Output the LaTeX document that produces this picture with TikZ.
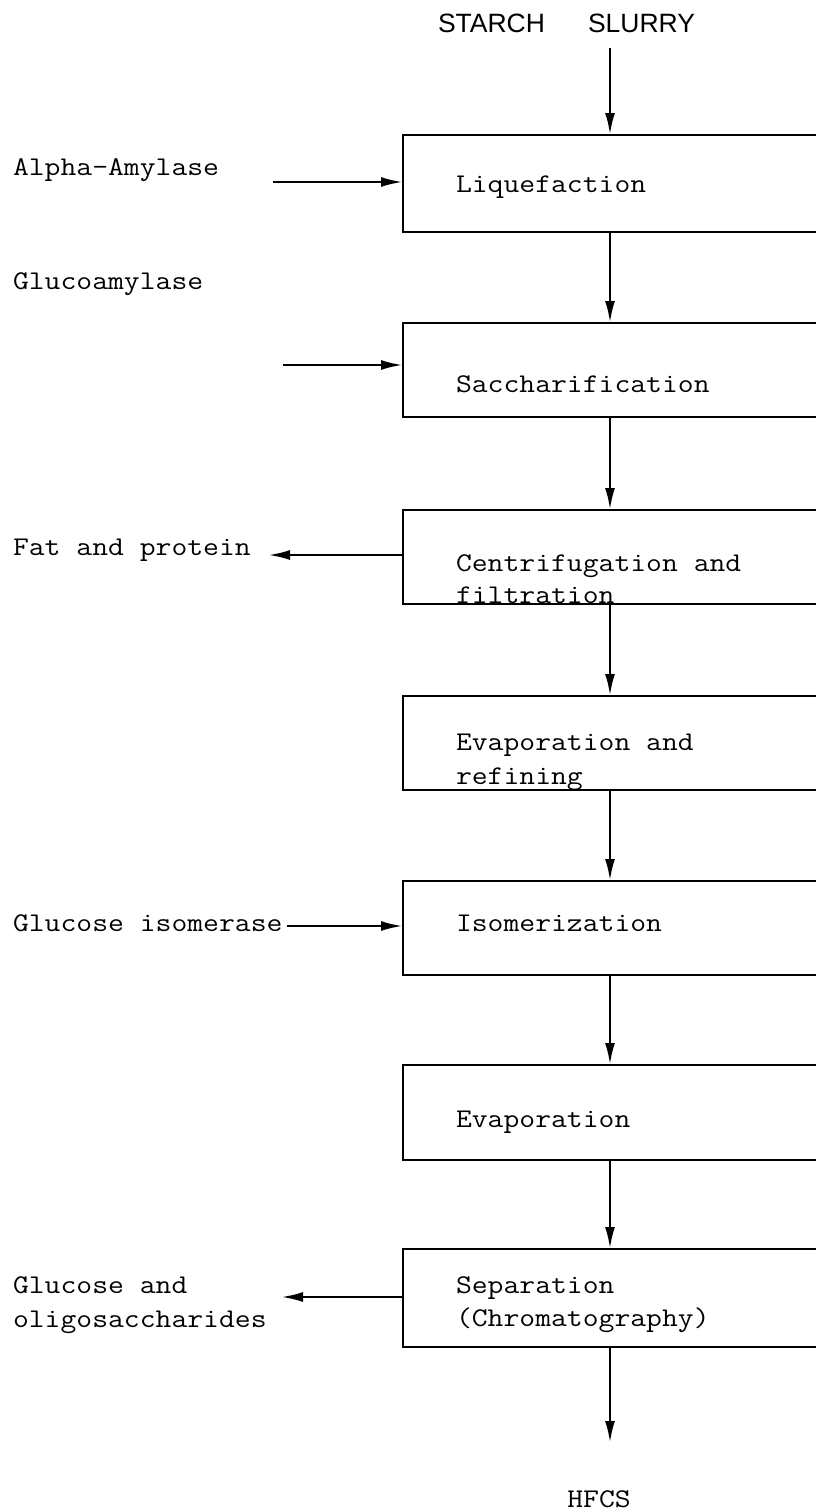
\documentclass[tikz,border=0pt]{standalone}
\usepackage{fontspec}
\setmonofont{Latin Modern Mono}[FakeStretch=1.14]
\newfontfamily\headsans{Liberation Sans}
\usetikzlibrary{arrows.meta}

\begin{document}
\begin{tikzpicture}[x=1pt,y=-1pt,
  every node/.style={inner sep=0pt, outer sep=0pt},
  txt/.style={anchor=base west, font=\fontsize{27}{34}\selectfont\ttfamily},
  head/.style={anchor=base west, font=\fontsize{26.5}{30}\selectfont\headsans},
  stage/.style={draw, line width=2.7pt, anchor=north west, minimum width=450pt},
  flow/.style={draw, line width=2.7pt, -{Latex[length=22pt,width=10pt]}},
]
\useasboundingbox (0,0) rectangle (816,1512);
\clip (0,0) rectangle (816,1512);

% process stages (they run past the right margin)
\node[stage, minimum height=97pt] (liq) at (403,135) {};
\node[stage, minimum height=94pt] (sac) at (403,323) {};
\node[stage, minimum height=94pt] (cen) at (403,510) {};
\node[stage, minimum height=94pt] (ref) at (403,696) {};
\node[stage, minimum height=94pt] (iso) at (403,881) {};
\node[stage, minimum height=95pt] (eva) at (403,1065) {};
\node[stage, minimum height=98pt] (sep) at (403,1249) {};

% stage texts
\node[txt] (tliq) at (456,192) {Liquefaction};
\node[txt] (tsac) at (456,392) {Saccharification};
\node[txt] (tcenA) at (456,571) {Centrifugation and};
\node[txt] (tcenB) at (456,603) {filtration};
\node[txt] (trefA) at (456,750) {Evaporation and};
\node[txt] (trefB) at (456,784) {refining};
\node[txt] (tiso) at (456,931) {Isomerization};
\node[txt] (teva) at (456,1127) {Evaporation};
\node[txt] (tsepA) at (456,1293) {Separation};
\node[txt] (tsepB) at (456,1326) {(Chromatography)};

% feed and product
\node[head] (starch) at (438,33) {STARCH};
\node[head] (slurry) at (588,33) {SLURRY};
\node[txt, anchor=base] (hfcs) at (599,1507) {HFCS};

% side streams
\node[txt] (alpha) at (13,175) {Alpha-Amylase};
\node[txt] (gluco) at (13,289) {Glucoamylase};
\node[txt] (fat) at (13,555) {Fat and protein};
\node[txt] (giso) at (13,931) {Glucose isomerase};
\node[txt] (oligA) at (13,1293) {Glucose and};
\node[txt] (oligB) at (13,1327) {oligosaccharides};

% main line
\coordinate (spine) at (610,0);
\coordinate (feed) at (610,48);
\coordinate (product) at (610,1443);
\draw[flow] (feed) -- (feed |- liq.north);
\draw[flow] (liq.south -| spine) -- (sac.north -| spine);
\draw[flow] (sac.south -| spine) -- (cen.north -| spine);
\draw[flow] (cen.south -| spine) -- (ref.north -| spine);
\draw[flow] (ref.south -| spine) -- (iso.north -| spine);
\draw[flow] (iso.south -| spine) -- (eva.north -| spine);
\draw[flow] (eva.south -| spine) -- (sep.north -| spine);
\draw[flow] (sep.south -| spine) -- (product);

% side arrows
\coordinate (alphaIn) at (273,182);
\coordinate (glucoIn) at (283,365);
\coordinate (fatOut) at (268,555);
\coordinate (gisoIn) at (287,926);
\coordinate (oligOut) at (281,1297);
\draw[flow] (alphaIn) -- (alphaIn -| liq.west);
\draw[flow] (glucoIn) -- (glucoIn -| sac.west);
\draw[flow] (fatOut -| cen.west) -- (fatOut);
\draw[flow] (gisoIn) -- (gisoIn -| iso.west);
\draw[flow] (oligOut -| sep.west) -- (oligOut);
\end{tikzpicture}
\end{document}
